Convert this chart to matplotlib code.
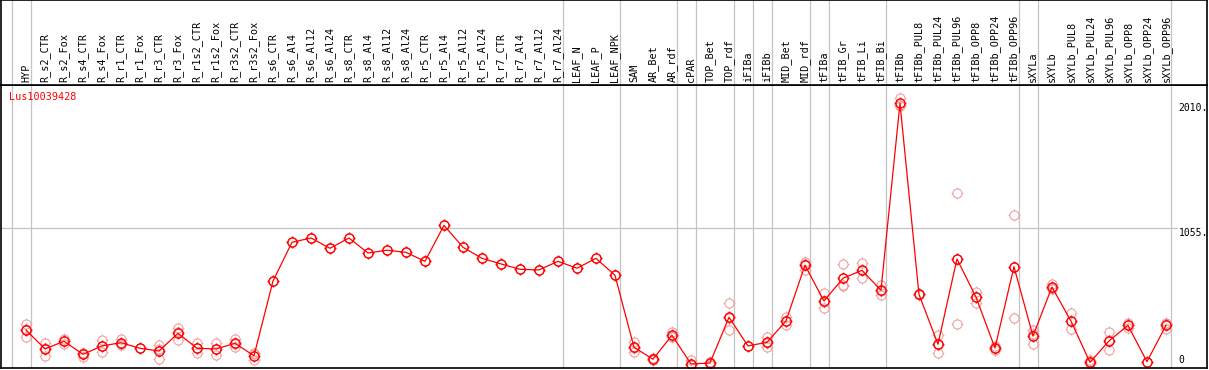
import matplotlib
matplotlib.use("Agg")
import matplotlib.pyplot as plt
import numpy as np
from matplotlib.path import Path

# ---------------- data ----------------
labels = ["HYP", "R_s2_CTR", "R_s2_Fox", "R_s4_CTR", "R_s4_Fox", "R_r1_CTR", "R_r1_Fox",
          "R_r3_CTR", "R_r3_Fox", "R_r1s2_CTR", "R_r1s2_Fox", "R_r3s2_CTR", "R_r3s2_Fox",
          "R_s6_CTR", "R_s6_Al4", "R_s6_Al12", "R_s6_Al24", "R_s8_CTR", "R_s8_Al4",
          "R_s8_Al12", "R_s8_Al24", "R_r5_CTR", "R_r5_Al4", "R_r5_Al12", "R_r5_Al24",
          "R_r7_CTR", "R_r7_Al4", "R_r7_Al12", "R_r7_Al24", "LEAF_N", "LEAF_P", "LEAF_NPK",
          "SAM", "AR_Bet", "AR_rdf", "cPAR", "TOP_Bet", "TOP_rdf", "iFIBa", "iFIBb",
          "MID_Bet", "MID_rdf", "tFIBa", "tFIB_Gr", "tFIB_Li", "tFIB_Bi", "tFIBb",
          "tFIBb_PUL8", "tFIBb_PUL24", "tFIBb_PUL96", "tFIBb_OPP8", "tFIBb_OPP24",
          "tFIBb_OPP96", "sXYLa", "sXYLb", "sXYLb_PUL8", "sXYLb_PUL24", "sXYLb_PUL96",
          "sXYLb_OPP8", "sXYLb_OPP24", "sXYLb_OPP96"]

means = [272, 127, 186, 86, 150, 175, 132, 111, 247, 132, 127, 170, 75,
         648, 945, 978, 899, 978, 863, 884, 868, 799, 1075, 907, 822,
         779, 738, 733, 799, 746, 822, 692,
         140, 48, 232, 12, 19, 370, 150, 178, 341, 769, 495, 669, 730, 577,
         2011, 546, 163, 817, 525, 134, 758,
         226, 602, 341, 24, 188, 308, 29, 308]

replicates = [
    [318, 282, 216], [175, 136, 70], [206, 187, 165], [93, 97, 68], [196, 150, 104],
    [206, 164, 155], [132], [155, 126, 52], [288, 257, 196], [170, 133, 93],
    [175, 123, 83], [201, 165, 144], [88, 95, 42],
    [648], [945], [978], [899], [978], [863], [884], [868], [799], [1075], [907], [822],
    [779], [738], [733], [799], [746], [822], [692],
    [180, 137, 103], [60, 40, 45], [257, 223, 216], [40, 0, 0], [27, 29, 1],
    [479, 361, 270], [150], [216, 174, 144], [370, 345, 308], [794, 780, 733],
    [556, 486, 443], [779, 615, 613], [786, 731, 673], [620, 568, 543],
    [2050, 1995, 1988], [550, 542, 546], [234, 161, 94], [1321, 814, 316],
    [564, 529, 482], [119, 134, 149], [1154, 758, 362],
    [272, 243, 163], [625, 592, 589], [400, 345, 278], [9, 24, 39], [255, 192, 117],
    [328, 311, 285], [29], [328, 318, 278]]

separators_after = [-1, 0, 28, 31, 34, 35, 37, 38, 39, 41, 42, 45, 52, 53, 60]
ytick_values = [0, 1055, 2010]
ytick_labels = ["0", "1055.", "2010."]
gene = "Lus10039428"

# ---------------- figure ----------------
W, H = 1209, 370
fig = plt.figure(figsize=(W / 100, H / 100), dpi=100)
fig.patch.set_facecolor("white")

FONT = "DejaVu Sans Mono"

# plot axes: pixels x 1..1207, y 85..368 (from top); label axes above
ax = fig.add_axes([1 / W, (H - 368) / H, 1206 / W, (368 - 85) / H])
axt = fig.add_axes([1 / W, (H - 85) / H, 1206 / W, 85 / H], sharex=ax)

x = np.arange(len(labels))
ax.set_xlim(-1.316, 62.16)
ax.set_ylim(-19.2, 2151.5)
axt.set_ylim(0, 1)

grid_c = "#c4c4c4"
for a in (ax, axt):
    for c in separators_after:
        a.axvline(c + 0.25, color=grid_c, lw=0.9, zorder=0)
    a.set_xticks([])
    a.set_yticks([])
    for s in a.spines.values():
        s.set_color("black")
        s.set_linewidth(1.2)
        s.set_zorder(5)

ax.axhline(1055, color=grid_c, lw=0.9, zorder=0)

# custom marker: circle with 4 small outer ticks
circ = Path.unit_circle()
verts = list(circ.vertices)
codes = list(circ.codes)
T = 1.3
for (a0, b0, a1, b1) in [(0, 1, 0, T), (0, -1, 0, -T), (1, 0, T, 0), (-1, 0, -T, 0)]:
    verts += [(a0, b0), (a1, b1)]
    codes += [Path.MOVETO, Path.LINETO]
mk = Path(verts, codes)

light = "#f0a0a0"
for i, reps in enumerate(replicates):
    ax.plot([i] * len(reps), reps, linestyle="none", marker=mk, ms=8.5,
            mfc="none", mec=light, mew=0.8, zorder=2)

ax.plot(x, means, color="#ff0000", lw=0.9, marker=mk, ms=8.5, mfc="none",
        mec="#ff0000", mew=1.0, zorder=3)

# column labels
for i, lab in enumerate(labels):
    axt.text(i, 0.03, lab, rotation=90, ha="center", va="bottom",
             fontsize=7.3, family=FONT, color="black")

# gene name
ax.text(8 / 1206, 1 - 12 / 283, gene, transform=ax.transAxes, ha="left", va="center",
        fontsize=7.3, family=FONT, color="#ff0000")

# y labels on the right
yt = ax.get_yaxis_transform()
for v, t in zip(ytick_values, ytick_labels):
    if v > 0:
        ax.text(1177.5 / 1206, v, t, transform=yt, ha="left", va="top",
                fontsize=7.0, family=FONT, color="black",
                bbox=dict(facecolor="white", edgecolor="none", pad=0.3), zorder=4)
    else:
        ax.text(1177.5 / 1206, v, t, transform=yt, ha="left", va="bottom",
                fontsize=7.0, family=FONT, color="black", zorder=4)

fig.savefig("out.png", dpi=100, facecolor="white")
